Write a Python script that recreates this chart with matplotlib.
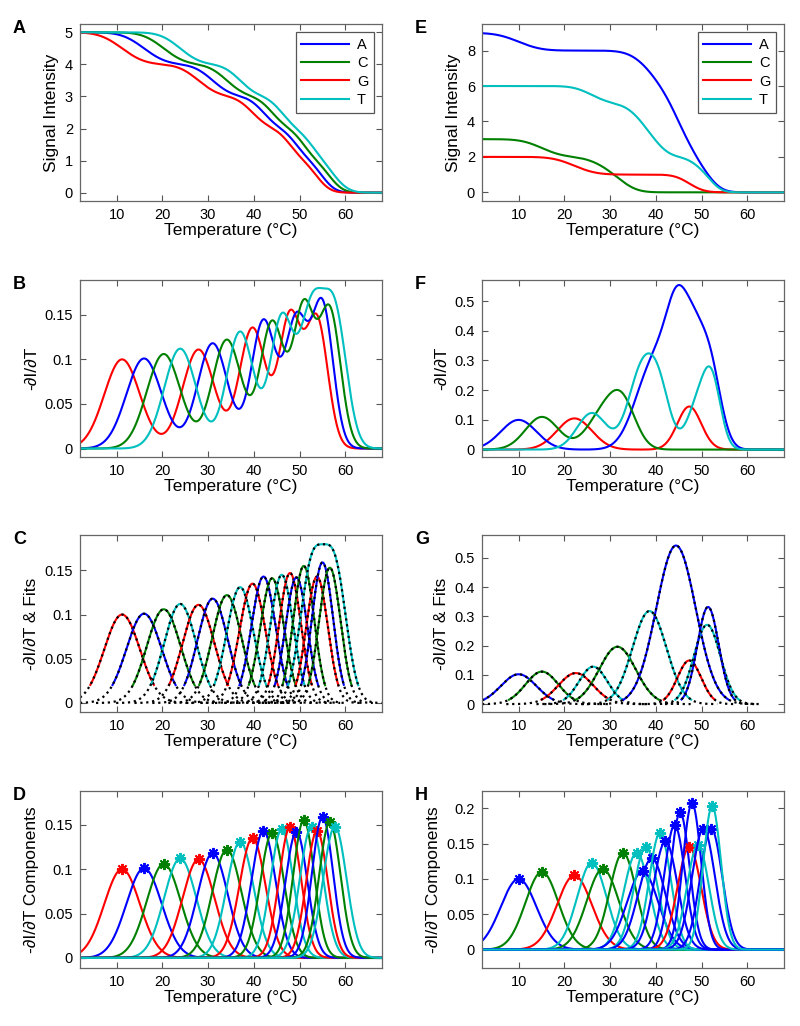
import math
import numpy as np
import matplotlib
matplotlib.use('Agg')
import matplotlib.pyplot as plt
from matplotlib.ticker import FuncFormatter

plt.rcParams['font.family'] = ['Liberation Sans', 'DejaVu Sans']

# base -> matlab colour
bases = ['A', 'C', 'G', 'T']
base_color = {'A': (0, 0, 1), 'C': (0, 0.5, 0), 'G': (1, 0, 0), 'T': (0, 0.75, 0.75)}

# left column: unit melting components (panel D peaks)
d_base = ['G', 'A', 'C', 'T', 'G', 'A', 'C', 'T', 'G', 'A',
          'C', 'T', 'G', 'A', 'C', 'T', 'G', 'A', 'C', 'T']
d_center = [11.2, 16.0, 20.3, 23.9, 27.9, 31.0, 34.1, 37.0, 39.7, 42.1,
            44.0, 46.1, 47.9, 49.3, 50.9, 52.6, 53.8, 55.0, 56.6, 57.7]
d_height = [0.100, 0.101, 0.106, 0.112, 0.111, 0.118, 0.122, 0.131, 0.135, 0.143,
            0.141, 0.145, 0.147, 0.142, 0.155, 0.148, 0.143, 0.159, 0.153, 0.148]
d_width = [3.9, 3.85, 3.7, 3.5, 3.5, 3.3, 3.2, 2.95, 2.85, 2.65,
           2.6, 2.5, 2.4, 2.4, 2.3, 2.55, 2.35, 2.3, 2.35, 2.55]
# panel C fit groups (indices into the D components), last T pair fitted together
c_groups = [[0], [1], [2], [3], [4], [5], [6], [7], [8], [9], [10], [11],
            [12], [13], [14], [15, 19], [16], [17], [18]]

# right column: unit melting components (panel H peaks)
h_base = ['A', 'C', 'G', 'T', 'C', 'C', 'T', 'A', 'T', 'A',
          'T', 'A', 'A', 'A', 'G', 'A', 'T', 'A', 'A', 'T']
h_center = [10.0, 15.1, 22.2, 26.0, 28.4, 32.8, 35.8, 37.1, 37.8, 39.1,
            40.9, 42.1, 44.1, 45.3, 47.3, 47.9, 49.2, 50.4, 52.1, 52.3]
h_height = [0.100, 0.110, 0.105, 0.123, 0.114, 0.137, 0.137, 0.111, 0.145, 0.129,
            0.165, 0.153, 0.176, 0.194, 0.145, 0.207, 0.148, 0.171, 0.171, 0.203]
h_width = [3.9, 3.6, 3.8, 3.2, 3.5, 2.9, 2.8, 3.4, 2.6, 3.0,
           2.35, 2.6, 2.27, 2.06, 2.6, 2.0, 2.4, 2.5, 2.4, 1.95]

# panel G first-stage fits (peak, height, width)
g_base = ['A', 'C', 'G', 'T', 'C', 'T', 'A', 'G', 'T', 'A']
g_center = [10.0, 15.1, 22.5, 26.3, 31.6, 38.6, 44.4, 47.3, 51.2, 51.4]
g_height = [0.102, 0.111, 0.106, 0.128, 0.196, 0.318, 0.542, 0.149, 0.271, 0.332]
g_width = [3.9, 3.6, 3.8, 3.1, 4.0, 3.7, 4.3, 2.6, 2.9, 2.35]

x = np.linspace(2, 68, 1321)
erf = np.frompyfunc(math.erf, 1, 1)


def gauss(mu, h, s):
    return h * np.exp(-(x - mu) ** 2 / (2 * s ** 2))


def melt(mu, s):
    return 0.5 * (1 + erf((x - mu) / (s * math.sqrt(2))).astype(float))


def fmt(v, p):
    return '%g' % round(v, 4)


def style(ax, ylim, yticks, ylabel):
    ax.set_xlim(2, 68)
    ax.set_xticks(range(10, 61, 10))
    ax.set_ylim(ylim)
    ax.set_yticks(yticks)
    ax.yaxis.set_major_formatter(FuncFormatter(fmt))
    ax.tick_params(direction='in', top=True, right=True, length=4, width=0.8,
                   labelsize=10.5, color='#555555', pad=5)
    for sp in ax.spines.values():
        sp.set_color('#666666')
        sp.set_linewidth(0.9)
    ax.set_xlabel('Temperature (\u00b0C)', fontsize=12.5, labelpad=1)
    ax.set_ylabel(ylabel, fontsize=12.5, labelpad=4)


fig = plt.figure(figsize=(8, 10.26), dpi=100)
W, H = 800.0, 1026.0
lefts = [80, 482]
tops = [24, 280, 535, 791]
axs = {}
for col, names in enumerate(['ABCD', 'EFGH']):
    for row, name in enumerate(names):
        ax = fig.add_axes([lefts[col] / W, 1 - (tops[row] + 177) / H, 302 / W, 177 / H])
        axs[name] = ax
        fig.text((lefts[col] - 67) / W, 1 - (tops[row] + 9) / H, name,
                 fontsize=13, fontweight='bold', va='baseline')

lw = 1.5


def column(cb, cc, ch, cw, panels):
    pA, pB, pD = panels
    # melting curves: one unit of signal lost per component
    for b in bases:
        idx = [i for i in range(len(cb)) if cb[i] == b]
        sig = len(idx) - sum(melt(cc[i], cw[i]) for i in idx)
        axs[pA].plot(x, sig, color=base_color[b], lw=lw, label=b)
    # derivative
    for b in ['G', 'A', 'C', 'T']:
        idx = [i for i in range(len(cb)) if cb[i] == b]
        der = sum(gauss(cc[i], ch[i], cw[i]) for i in idx)
        axs[pB].plot(x, der, color=base_color[b], lw=lw)
    # components with peak markers
    for i in range(len(cb)):
        c = base_color[cb[i]]
        axs[pD].plot(x, gauss(cc[i], ch[i], cw[i]), color=c, lw=lw)
        axs[pD].plot([cc[i]], [ch[i]], marker=(8, 2, 0), ms=8,
                     mew=1.4, color=c, ls='none')


column(d_base, d_center, d_height, d_width, 'ABD')
column(h_base, h_center, h_height, h_width, 'EFH')

# panel C: data segments and fits
for grp in c_groups:
    y = sum(gauss(d_center[i], d_height[i], d_width[i]) for i in grp)
    c = base_color[d_base[grp[0]]]
    m = y > 0.02
    axs['C'].plot(x[m], y[m], color=c, lw=lw)
    lo = min(d_center[i] - 4 * d_width[i] for i in grp)
    hi = max(d_center[i] + 4 * d_width[i] for i in grp)
    w = (x >= lo) & (x <= hi)
    axs['C'].plot(x[w], y[w], color='k', lw=1.6, ls=':')

# panel G: data segments and fits
for i in range(len(g_base)):
    y = gauss(g_center[i], g_height[i], g_width[i])
    c = base_color[g_base[i]]
    m = y > 0.015
    axs['G'].plot(x[m], y[m], color=c, lw=lw)
    s = g_width[i]
    w = (x >= g_center[i] - 4 * s) & (x <= g_center[i] + 4 * s)
    axs['G'].plot(x[w], y[w], color='k', lw=1.6, ls=':')

d_ticks = [0, 0.05, 0.1, 0.15]
style(axs['A'], (-0.26, 5.26), range(0, 6), 'Signal Intensity')
style(axs['B'], (-0.0095, 0.189), d_ticks, '-\u2202I/\u2202T')
style(axs['C'], (-0.0102, 0.19), d_ticks, '-\u2202I/\u2202T & Fits')
style(axs['D'], (-0.0113, 0.188), d_ticks, '-\u2202I/\u2202T Components')
style(axs['E'], (-0.49, 9.5), range(0, 9, 2), 'Signal Intensity')
style(axs['F'], (-0.025, 0.571), [0, 0.1, 0.2, 0.3, 0.4, 0.5], '-\u2202I/\u2202T')
style(axs['G'], (-0.027, 0.578), [0, 0.1, 0.2, 0.3, 0.4, 0.5], '-\u2202I/\u2202T & Fits')
style(axs['H'], (-0.026, 0.2244), [0, 0.05, 0.1, 0.15, 0.2], '-\u2202I/\u2202T Components')

for p in ['A', 'E']:
    leg = axs[p].legend(loc='upper right', fontsize=10.5, handlelength=3.3,
                        fancybox=False, edgecolor='#555555', framealpha=1,
                        borderaxespad=0.55, labelspacing=0.3, borderpad=0.4,
                        handletextpad=0.5)
    leg.get_frame().set_linewidth(0.9)

fig.savefig('out.png', dpi=100)
